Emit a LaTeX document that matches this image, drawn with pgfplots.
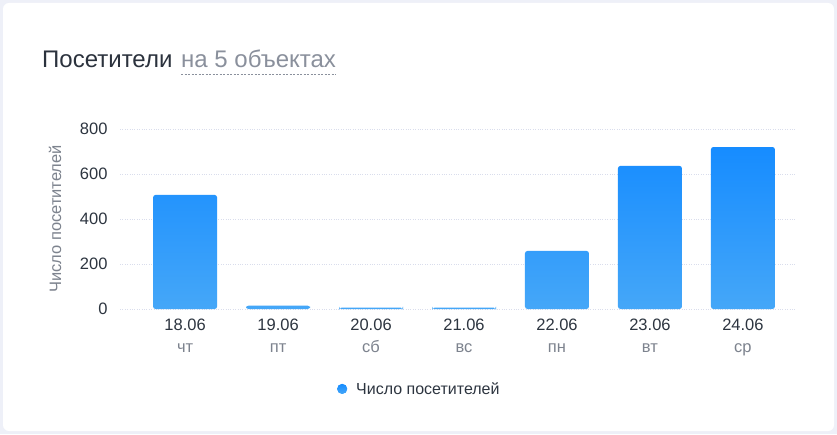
\documentclass[border=0pt]{standalone}
\usepackage{fontspec}
\setmainfont{Liberation Sans}
\usepackage{pgfplots}
\pgfplotsset{compat=1.18}

\definecolor{pagebg}{HTML}{EEF0F8}
\definecolor{titlecol}{HTML}{2B323D}
\definecolor{subcol}{HTML}{8A909C}
\definecolor{tickcol}{HTML}{2D3540}
\definecolor{daycol}{HTML}{7D838E}
\definecolor{gridcol}{HTML}{D9DDEC}
\definecolor{bartop}{HTML}{168CFF}
\definecolor{barbot}{HTML}{45A7F8}
\definecolor{legblue}{HTML}{1890FF}

\begin{document}
\begin{tikzpicture}[x=1pt,y=1pt]
% card
\fill[pagebg] (0,0) rectangle (837,434);
\fill[white, rounded corners=6pt] (3,3) rectangle (834,431);
\useasboundingbox (0,0) rectangle (837,434);

% title
\node[anchor=base west, inner sep=0pt, text=titlecol, font=\fontsize{24}{28}\selectfont]
  at (42,366) {Посетители};
\node[anchor=base west, inner sep=0pt, text=subcol, font=\fontsize{24}{28}\selectfont]
  at (181,366) {на 5 объектах};
\draw[subcol, dash pattern=on 2pt off 1.5pt, line width=0.8pt] (181,360) -- (336,360);

\begin{axis}[
    at={(120pt,125pt)}, anchor=south west,
    scale only axis,
    width=675pt, height=180pt,
    xmin=-0.7, xmax=6.56,
    ymin=0, ymax=800,
    axis line style={draw=none},
    major tick length=0pt,
    ytick={0,200,400,600,800},
    xtick={0,1,2,3,4,5,6},
    xticklabels={
      {18.06\\\textcolor{daycol}{чт}},
      {19.06\\\textcolor{daycol}{пт}},
      {20.06\\\textcolor{daycol}{сб}},
      {21.06\\\textcolor{daycol}{вс}},
      {22.06\\\textcolor{daycol}{пн}},
      {23.06\\\textcolor{daycol}{вт}},
      {24.06\\\textcolor{daycol}{ср}}},
    /pgf/number format/assume math mode=true,
    tick label style={font=\fontsize{16.5}{22}\selectfont, text=tickcol},
    xticklabel style={align=center, yshift=-6pt},
    yticklabel style={xshift=-9pt},
    ymajorgrids,
    grid style={gridcol, dotted, line width=0.8pt},
    ylabel={Число посетителей},
    ylabel style={at={(axis description cs:-0.0963,0.5)}, anchor=center,
      font=\fontsize{16.5}{18}\selectfont, text=daycol},
    legend style={at={(axis description cs:0.317,-0.444)}, anchor=west,
      draw=none, fill=none, font=\fontsize{16}{18}\selectfont, text=tickcol,
      legend cell align=left},
    legend image code/.code={\fill[legblue] (0pt,0pt) circle (5pt); \path (12pt,0pt);},
  ]
\addplot[ybar, bar width=64pt, draw=none, top color=bartop, bottom color=barbot,
  rounded corners=2.5pt]
  coordinates {(0,507) (1,15) (2,6) (3,6) (4,258) (5,636) (6,720)};
\legend{Число посетителей}
\end{axis}
\end{tikzpicture}
\end{document}
